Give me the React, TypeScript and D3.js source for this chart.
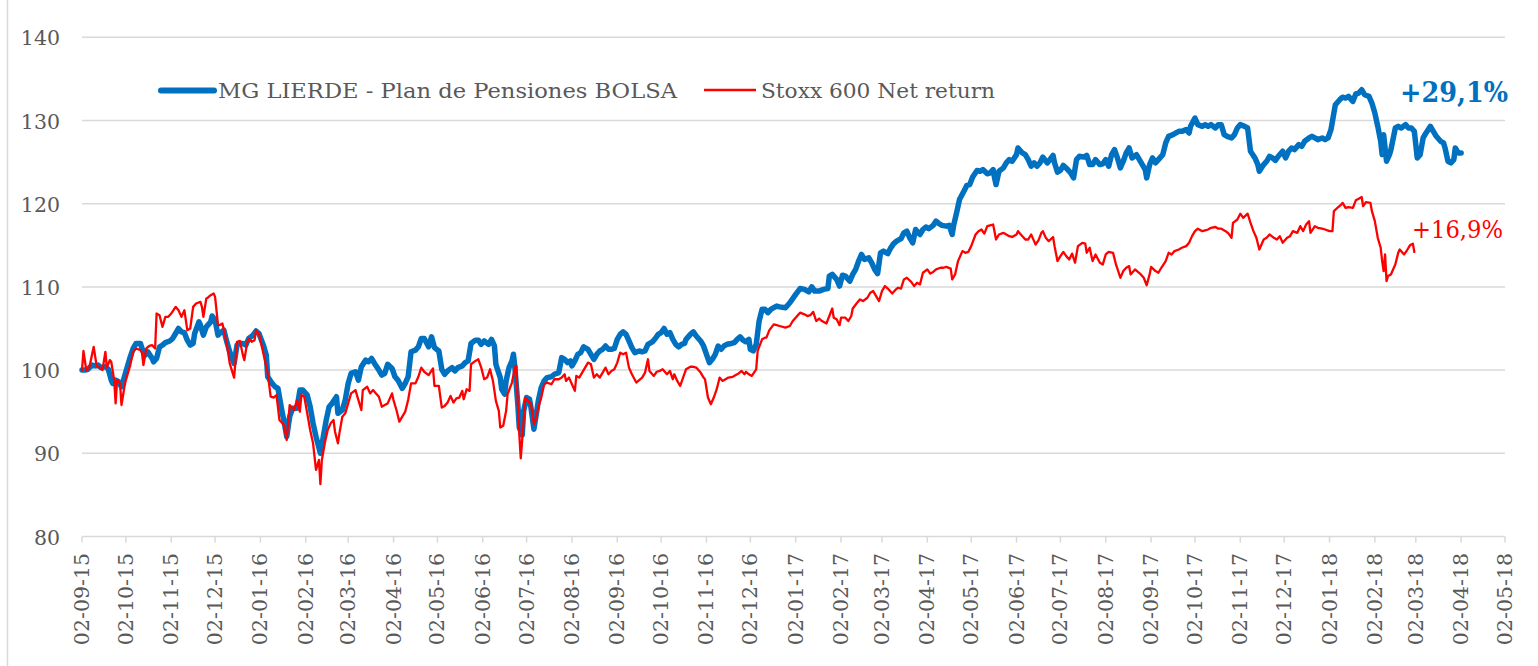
import React from 'react';
import * as d3 from 'd3';

// Start date of both series; point positions are given in days since this date
const START_DATE = '2015-09-02';

const tickLabels = [
  '02-09-15', '02-10-15', '02-11-15', '02-12-15',
  '02-01-16', '02-02-16', '02-03-16', '02-04-16', '02-05-16', '02-06-16',
  '02-07-16', '02-08-16', '02-09-16', '02-10-16', '02-11-16', '02-12-16',
  '02-01-17', '02-02-17', '02-03-17', '02-04-17', '02-05-17', '02-06-17',
  '02-07-17', '02-08-17', '02-09-17', '02-10-17', '02-11-17', '02-12-17',
  '02-01-18', '02-02-18', '02-03-18', '02-04-18', '02-05-18',
];

const yTicks = [80, 90, 100, 110, 120, 130, 140];

const seriesNames = ['MG LIERDE - Plan de Pensiones BOLSA', 'Stoxx 600 Net return'];
const endLabels = ['+29,1%', '+16,9%'];

// [days since start, value]
const fundPoints: [number, number][] = [
  [0,100],[2,100.0],[4,100.1],[7,100.6],[9,100.5],[11,100.6],[13,100.3],[16,100.4],[18,100.1],[20,98.8],
  [21,98.4],[23,98.8],[25,98.6],[27,98.0],[29,99.2],[30,99.8],[33,101.6],[35,102.6],[37,103.2],[40,103.2],
  [41,102.6],[43,101.8],[45,102.2],[48,101.4],[49,101.0],[51,101.4],[53,102.8],[55,103.0],[57,103.3],[60,103.5],
  [62,103.8],[64,104.4],[66,105.0],[68,104.6],[70,104.5],[72,103.6],[74,103.0],[76,103.2],[77,104.4],[80,105.8],
  [81,105.4],[83,104.2],[85,105.2],[88,105.8],[89,106.5],[91,106.0],[93,104.2],[94,104.4],[97,104.8],[99,103.4],
  [101,102.2],[104,100.8],[106,103.0],[108,103.2],[110,103.2],[112,103.0],[114,103.8],[117,104.2],[119,104.7],[121,104.4],
  [124,103.0],[126,101.8],[127,99.2],[130,98.4],[132,98.0],[134,97.8],[137,94.8],[138,94.0],[140,92.0],[142,94.4],
  [144,95.4],[147,95.4],[149,97.6],[151,97.6],[154,97.0],[156,95.6],[158,93.6],[160,92.0],[163,90.0],[165,92.0],
  [167,94.0],[169,95.6],[171,96.0],[174,96.8],[175,94.8],[178,95.2],[180,96.4],[182,98.4],[184,99.6],[187,99.8],
  [189,98.8],[191,100.4],[194,101.2],[196,101.0],[198,101.4],[200,100.8],[203,100.0],[205,99.4],[207,99.6],[209,100.7],
  [212,100.2],[214,99.2],[216,98.8],[219,97.8],[221,98.4],[223,99.2],[225,102.2],[228,102.4],[230,102.8],[232,103.8],
  [234,103.8],[237,102.8],
  [239,104.0],[241,102.7],[244,102.3],[246,100.1],[248,99.5],[250,99.9],[253,100.3],[255,99.9],[257,100.3],[260,100.5],
  [262,100.9],[264,101.1],[266,103.2],[269,103.6],[271,103.6],[273,103.1],[275,103.5],[278,103.1],[280,103.7],[282,102.9],
  [283,100.7],[286,99.1],[287,97.7],[289,97.1],[290,98.7],[292,100.3],[294,101.1],[295,101.9],[296,100.3],[298,95.9],
  [299,93.1],[301,92.2],[302,95.1],[304,96.7],[306,96.5],[307,95.5],[309,92.9],[311,95.1],[312,96.3],[314,97.9],
  [316,98.7],[318,99.1],[321,99.2],[323,99.5],[326,99.7],[328,101.5],[330,101.3],[332,100.9],[334,101.1],[335,100.5],
  [337,101.1],[339,101.9],[341,102.1],[343,102.8],[346,102.5],[348,101.9],[350,101.3],[352,101.9],[354,102.3],[356,102.5],
  [358,102.9],[360,102.5],[362,102.5],[364,102.6],[366,103.7],[368,104.3],[370,104.6],[372,104.3],[374,103.5],[376,102.7],
  [378,102.1],[381,102.3],[383,102.2],[385,102.3],[387,103.1],[390,103.4],[392,103.8],[394,104.3],[396,104.5],[398,105.0],
  [400,104.3],[402,104.5],[404,103.7],[406,103.1],[408,102.8],[410,103.1],[412,103.2],[413,103.7],[416,104.3],[418,104.6],
  [420,104.1],[423,103.5],[425,102.9],[427,101.9],[429,100.9],[431,101.3],[433,101.9],[435,102.9],[437,102.5],[439,102.9],
  [441,103.1],[444,103.2],[446,103.3],[448,103.7],[450,104.0],[452,103.6],[454,103.4],[456,103.7],[457,102.5],[459,102.3],
  [461,103.1],[463,105.9],[465,107.3],[467,107.3],[469,106.9],[471,107.3],[473,107.5],[475,107.7],[477,107.6],
  [481,107.5],[484,108.1],[488,109.1],[491,109.8],[494,109.7],[497,109.4],[499,110.0],[501,109.5],[504,109.5],[507,109.7],
  [510,109.8],[511,111.3],[513,111.5],[516,110.9],[518,110.1],[520,111.4],[522,111.3],[525,110.7],[527,111.5],[529,112.1],
  [531,113.1],[533,113.9],[535,113.3],[538,113.5],[540,112.9],[542,112.1],[544,111.6],[546,114.1],[548,114.3],[551,114.0],
  [553,114.7],[555,115.2],[557,115.5],[560,115.8],[562,116.5],[564,116.7],[566,115.9],[568,115.3],[570,116.9],[573,116.3],
  [575,116.9],[577,117.2],[579,117.0],[582,117.4],[584,117.9],[586,117.6],[588,117.4],[591,117.3],[593,117.4],[595,116.3],
  [596,117.4],[598,118.9],[600,120.5],[603,121.5],[605,122.2],[607,122.3],[609,123.2],[612,124.0],[614,123.9],[616,124.1],
  [619,123.6],[621,123.7],[623,124.1],[624,123.1],[625,122.3],[627,123.9],[630,124.3],[632,124.9],[634,125.3],[636,125.1],
  [639,125.9],[640,126.7],[643,126.1],[645,125.9],[647,125.3],[649,124.5],[651,124.9],[653,124.5],[655,124.9],[657,125.6],
  [660,124.9],[661,125.1],[664,125.8],[665,124.9],[667,123.8],[669,124.0],[671,124.6],[674,124.1],[676,123.7],[678,123.1],
  [680,125.3],[682,125.7],[685,125.6],[687,125.8],[689,124.7],[691,124.7],[693,125.3],[696,124.7],[698,124.8],[700,125.3],
  [702,124.5],[704,125.9],[706,126.5],[708,125.5],[710,124.3],[712,125.1],[714,126.1],
  [716,126.7],[718,125.5],[721,125.9],[723,125.3],[725,124.7],[727,124.1],[728,123.1],[730,124.7],[732,125.5],[734,124.9],
  [736,125.3],[739,125.9],[741,127.3],[743,128.1],[746,128.3],[748,128.5],[750,128.7],[752,128.7],[755,128.9],[757,128.5],
  [758,129.3],[761,130.3],[763,129.5],[766,129.3],[768,129.5],[770,129.3],[772,129.5],[775,129.1],[777,129.5],[779,129.5],
  [781,128.3],[783,128.1],[786,127.9],[788,128.3],[790,129.1],[792,129.5],[795,129.3],[797,129.1],[799,126.3],[802,125.5],
  [804,124.7],[805,123.9],[808,124.7],[810,125.1],[812,125.7],[814,125.5],[816,125.2],[818,125.7],[821,126.3],[823,125.5],
  [825,126.3],[827,126.7],[829,126.5],[832,127.1],[834,126.9],[836,127.5],[839,127.9],[841,128.1],[843,127.9],[845,127.7],
  [848,127.9],[850,127.7],[852,127.9],[854,128.9],[856,130.9],[857,131.9],[860,132.5],[862,132.8],[864,132.7],[866,132.9],
  [869,132.3],[871,133.2],[873,133.3],[875,133.7],[877,133.1],[880,132.9],[882,132.1],[884,130.9],[886,129.3],[888,127.5],
  [889,125.9],[890,128.3],[892,125.1],[894,125.9],[895,126.5],[898,129.1],[900,129.3],[902,129.1],[905,129.5],[907,129.1],
  [909,129.1],[911,128.7],[913,125.5],[915,125.9],[917,127.9],[919,128.5],[922,129.3],[924,128.7],[926,128.1],[929,127.5],
  [931,127.3],[932,126.7],[934,125.1],[936,124.9],[938,125.3],[939,126.7],[941,126.1],[943,126.1],
];

const indexPoints: [number, number][] = [
  [0,100],[1,102.3],[3,99.9],[5,100.3],[8,102.8],[10,100.5],[12,100.3],[14,100.0],[16,102.2],[17,100.3],
  [19,101.2],[20,101.0],[22,98.8],[23,96.0],[24,98.8],[26,98.4],[27,95.8],[29,98.0],[30,98.8],[33,100.6],
  [35,102.2],[37,102.6],[40,102.4],[41,102.1],[42,100.6],[44,102.6],[46,102.9],[48,103.0],[50,102.6],[51,106.8],
  [53,106.6],[55,105.2],[57,106.4],[59,106.4],[61,106.8],[64,107.6],[66,107.2],[68,106.4],[70,107.2],[72,104.8],
  [74,105.0],[76,107.6],[78,108.0],[81,108.2],[82,107.6],[83,106.4],[85,108.6],[86,108.7],[88,109.0],[90,109.2],
  [91,108.8],[93,105.4],[94,105.4],[96,105.6],[98,104.0],[99,103.2],[101,100.8],[104,99.1],[105,101.2],[106,103.4],
  [108,103.5],[110,101.8],[111,101.2],[113,103.4],[114,103.8],[116,103.4],[118,103.6],[119,104.8],[121,104.4],[123,102.8],
  [125,101.2],[127,99.6],[129,96.8],[131,96.7],[133,97.0],[135,94.0],[137,93.6],[138,93.4],[140,91.6],[142,95.8],
  [145,95.2],[147,96.4],[149,95.0],[150,97.0],[152,96.8],[154,94.8],[156,92.8],[158,91.2],[160,88.0],[162,89.2],
  [163,86.3],[164,89.2],[166,91.2],[168,92.8],[170,93.6],[172,94.0],[173,92.6],[175,91.2],[176,92.4],[178,94.4],
  [180,94.8],[182,96.0],[184,97.2],[187,97.6],[189,96.4],[191,95.2],[192,97.6],[195,98.0],[197,97.2],[199,97.6],
  [201,97.2],[203,96.8],[205,95.6],[207,95.8],[209,96.0],[212,97.2],[213,96.4],[215,95.2],[217,93.8],[219,94.4],
  [221,95.0],[223,96.4],[225,98.4],[228,98.4],[230,99.2],[232,100.3],[234,99.8],[237,99.4],
  [240,100.2],[241,98.1],[244,98.1],[246,95.5],[248,95.7],[250,96.1],[252,96.9],[254,96.1],[256,96.6],[258,96.7],
  [260,97.5],[261,96.5],[263,97.7],[265,97.5],[266,100.7],[269,101.1],[271,101.3],[273,100.3],[275,98.9],[277,99.1],
  [279,100.1],[281,98.7],[283,96.3],[285,95.1],[286,93.1],[288,93.3],[290,95.1],[291,97.1],[294,98.5],[296,100.3],
  [297,100.5],[298,95.9],[299,92.3],[300,89.4],[302,93.9],[303,96.7],[305,96.3],[307,95.9],[309,93.5],[310,93.9],
  [312,95.5],[314,96.7],[316,98.3],[318,98.5],[321,98.3],[323,98.9],[326,98.9],[328,99.1],[330,99.5],[331,98.7],
  [333,99.1],[335,98.3],[337,97.5],[338,99.3],[340,99.1],[342,99.7],[344,100.3],[346,100.9],[348,100.7],[350,99.1],
  [352,99.5],[354,99.1],[356,99.7],[358,100.3],[360,99.5],[362,99.9],[364,100.1],[366,100.9],[368,102.1],[370,101.9],
  [372,102.1],[374,100.3],[376,99.5],[379,98.5],[381,98.8],[383,99.1],[385,99.7],[387,101.3],[388,99.9],[391,99.3],
  [393,99.8],[395,99.9],[397,100.1],[400,99.5],[402,99.9],[404,98.9],[405,99.5],[407,98.7],[409,98.1],[411,99.1],
  [413,100.1],[416,100.4],[418,100.4],[420,100.3],[423,99.7],[425,99.1],[426,98.9],[428,96.7],[430,95.9],[432,96.7],
  [434,97.7],[436,99.1],[438,98.7],[440,98.9],[442,99.1],[445,99.2],[447,99.4],[449,99.6],[451,99.9],[453,99.5],
  [454,99.8],[456,99.5],[458,99.3],[461,100.1],[462,102.3],[465,103.7],[467,103.9],[468,103.9],[470,104.8],[473,105.5],
  [475,105.4],[477,105.3],
  [481,105.1],[484,105.3],[486,105.9],[489,106.5],[491,106.9],[494,106.7],[496,106.5],[498,106.6],[500,107.0],[502,105.9],
  [504,106.2],[506,105.9],[509,105.6],[511,106.5],[513,107.4],[514,106.3],[516,106.1],[518,105.4],[519,106.3],[522,106.3],
  [524,105.9],[526,106.5],[527,107.4],[530,108.1],[532,108.5],[534,108.3],[537,108.7],[539,109.3],[541,109.5],[543,108.9],
  [545,108.3],[547,109.5],[549,110.1],[551,109.8],[554,109.2],[556,109.6],[558,109.9],[560,109.8],[562,110.9],[564,111.1],
  [567,110.6],[569,110.1],[571,110.5],[573,110.3],[575,111.7],[578,112.1],[580,111.6],[582,111.8],[584,112.1],[587,112.3],
  [589,112.3],[591,112.4],[594,112.2],[595,110.9],[597,111.5],[599,113.1],[602,114.3],[604,114.1],[606,114.2],[608,114.9],
  [611,116.3],[613,116.7],[615,116.9],[617,116.4],[619,117.3],[621,117.4],[623,117.5],[625,115.7],[627,116.3],[630,116.5],
  [632,116.3],[634,116.1],[636,116.0],[639,116.3],[640,116.7],[643,116.1],[645,115.7],[647,115.7],[649,116.3],[651,115.5],
  [652,115.1],[654,115.6],[656,116.5],[657,116.7],[659,115.9],[661,115.5],[664,116.0],[665,114.9],[667,113.1],[669,113.7],
  [671,114.2],[673,113.7],[675,113.3],[677,114.0],[679,112.9],[681,114.9],[684,115.3],[686,115.2],[687,114.1],[689,114.7],
  [691,113.1],[693,113.9],[696,112.9],[698,112.7],[700,113.9],[702,114.2],[705,114.1],[707,112.7],[710,111.1],[712,111.9],
  [714,112.3],
  [716,112.5],[717,111.5],[720,112.1],[722,111.8],[724,111.5],[726,111.1],[728,110.2],[730,111.5],[731,112.4],[734,111.9],
  [736,111.7],[738,112.3],[741,113.1],[743,114.1],[745,113.9],[747,114.3],[750,114.5],[752,114.7],[755,114.9],[757,115.3],
  [759,116.1],[761,116.7],[763,117.0],[766,116.7],[768,116.8],[770,116.9],[772,117.1],[775,117.2],[777,117.0],[779,117.0],
  [782,116.7],[784,116.4],[786,115.9],[787,117.7],[790,118.1],[792,118.8],[794,118.3],[797,118.8],[799,117.7],[801,116.7],
  [803,115.9],[805,114.5],[808,115.7],[810,115.9],[812,116.3],[815,115.9],[817,115.7],[819,116.1],[821,115.3],[824,115.9],
  [826,116.1],[828,116.7],[831,116.5],[833,117.3],[835,116.7],[837,117.5],[839,117.9],[840,116.5],[843,117.3],[845,117.1],
  [848,117.0],[850,116.9],[853,116.7],[855,116.7],[856,119.1],[859,119.6],[861,119.9],[862,120.1],[864,119.5],[866,119.6],
  [869,119.5],[871,120.4],[873,120.6],[875,120.8],[876,119.7],[878,120.2],[881,120.1],[882,119.1],[884,117.9],[886,115.9],
  [888,114.7],[889,113.1],[890,111.9],[891,113.9],[892,110.7],[893,111.3],[895,111.5],[897,112.3],[898,112.7],[900,114.1],
  [901,114.5],[904,113.9],[906,114.4],[908,115.0],[910,115.2],[911,114.2],
];

const BLUE = '#0070C0';
const RED = '#FF0000';
const GRID = '#D9D9D9';
const TEXT = '#595959';
const FONT = '"DejaVu Serif", serif';

export default function App() {
  const parseTick = d3.utcParse('%d-%m-%y');
  const start = d3.utcParse('%Y-%m-%d')(START_DATE) as Date;
  const tickDates = tickLabels.map((l) => parseTick(l) as Date);

  const x = d3
    .scaleUtc()
    .domain([tickDates[0], tickDates[tickDates.length - 1]])
    .range([82, 1505]);
  const y = d3.scaleLinear().domain([80, 140]).range([536.5, 37.3]);

  const line = d3
    .line<[number, number]>()
    .x((d) => x(d3.utcDay.offset(start, d[0])))
    .y((d) => y(d[1]));

  const [x0, x1] = x.range();

  return (
    <svg
      width={1538}
      height={666}
      style={{ position: 'absolute', left: 0, top: 0, background: '#fff', display: 'block' }}
      fontFamily={FONT}
    >
      <rect x={0} y={0} width={1538} height={666} fill="#fff" />
      <line x1={7.5} x2={7.5} y1={0} y2={666} stroke={GRID} strokeWidth={1.5} />

      {/* grid lines */}
      {yTicks.map((t) => (
        <line key={t} x1={x0} x2={x1} y1={y(t)} y2={y(t)} stroke={GRID} strokeWidth={1.5} />
      ))}

      {/* y labels */}
      {yTicks.map((t) => (
        <text key={t} x={60} y={y(t) + 8} textAnchor="end" fontSize={20.5} fill={TEXT}>
          {t}
        </text>
      ))}

      {/* x ticks and labels */}
      {tickDates.map((d, i) => {
        const px = x(d);
        return (
          <g key={tickLabels[i]}>
            <line x1={px} x2={px} y1={y(80)} y2={y(80) + 6} stroke={GRID} strokeWidth={1.5} />
            <text
              transform={`translate(${px + 7},553) rotate(-90)`}
              textAnchor="end"
              fontSize={20.5}
              fill={TEXT}
            >
              {tickLabels[i]}
            </text>
          </g>
        );
      })}

      {/* series */}
      <path
        d={line(fundPoints) || ''}
        fill="none"
        stroke={BLUE}
        strokeWidth={5.5}
        strokeLinejoin="round"
        strokeLinecap="round"
      />
      <path
        d={line(indexPoints) || ''}
        fill="none"
        stroke={RED}
        strokeWidth={2.3}
        strokeLinejoin="round"
        strokeLinecap="round"
      />

      {/* legend */}
      <line x1={161} x2={214} y1={90.5} y2={90.5} stroke={BLUE} strokeWidth={6} strokeLinecap="round" />
      <text x={218} y={97.5} fontSize={20.5} fill={TEXT} textLength={459} lengthAdjust="spacingAndGlyphs">
        {seriesNames[0]}
      </text>
      <line x1={704} x2={756} y1={90} y2={90} stroke={RED} strokeWidth={2.5} />
      <text x={761} y={97.5} fontSize={20.5} fill={TEXT} textLength={234} lengthAdjust="spacingAndGlyphs">
        {seriesNames[1]}
      </text>

      {/* end labels */}
      <text x={1400} y={101.5} fontSize={28} fontWeight="bold" fill={BLUE} textLength={108} lengthAdjust="spacingAndGlyphs">
        {endLabels[0]}
      </text>
      <text x={1412} y={237.5} fontSize={24} fill={RED} textLength={91} lengthAdjust="spacingAndGlyphs">
        {endLabels[1]}
      </text>
    </svg>
  );
}
